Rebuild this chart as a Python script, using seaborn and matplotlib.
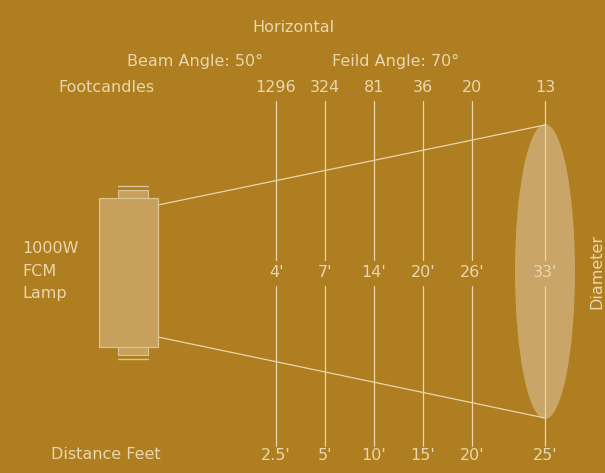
import matplotlib
matplotlib.use("Agg")
import matplotlib.pyplot as plt
from matplotlib.patches import Rectangle, Ellipse
import seaborn as sns
import pandas as pd

# ---- data ----
footcandles = ["1296", "324", "81", "36", "20", "13"]
diameters = ["4'", "7'", "14'", "20'", "26'", "33'"]
distances = ["2.5'", "5'", "10'", "15'", "20'", "25'"]
lamp_label = "1000W\nFCM\nLamp"
beam_angle = "Beam Angle: 50°"
field_angle = "Feild Angle: 70°"

# ---- layout (pixel coords) ----
col_x = [276, 325, 374, 423, 472, 545]

BG = "#AE7E20"
FG = "#EAD7AE"
LAMP = "#C7A15C"
SPOT = "#C9A567"

sns.set_style("white")
plt.rcParams["font.family"] = ["DejaVu Sans"]

fig = plt.figure(figsize=(6.05, 4.73), dpi=100, facecolor=BG)
ax = fig.add_axes([0, 0, 1, 1])
ax.set_facecolor(BG)
ax.set_xlim(0, 605)
ax.set_ylim(473, 0)
ax.axis("off")

df = pd.DataFrame({"x": col_x, "fc": footcandles, "dia": diameters, "dist": distances})

# ellipse (beam spot)
ax.add_patch(Ellipse((545, 271.5), 60, 295, facecolor=SPOT, edgecolor="none", zorder=1))

# beam edges
ax.plot([158, 545], [205, 125], color=FG, lw=0.9, zorder=2)
ax.plot([158, 545], [337, 418], color=FG, lw=0.9, zorder=2)

# vertical distance lines (broken around diameter labels)
for x in df["x"]:
    ax.plot([x, x], [101, 260], color=FG, lw=0.9, zorder=2)
    ax.plot([x, x], [286, 446], color=FG, lw=0.9, zorder=2)

# lamp
ax.add_patch(Rectangle((118, 190), 30, 8, facecolor=LAMP, edgecolor="#DCC394", lw=0.8, zorder=3))
ax.add_patch(Rectangle((118, 346.5), 30, 8, facecolor=LAMP, edgecolor="#DCC394", lw=0.8, zorder=3))
ax.plot([118, 148], [186, 186], color="#DCC394", lw=1, zorder=3)
ax.plot([118, 148], [359, 359], color="#DCC394", lw=1, zorder=3)
ax.add_patch(Rectangle((98.5, 198), 59, 148.5, facecolor=LAMP, edgecolor="#DCC394", lw=0.9, zorder=4))

fs = 11.5
tk = dict(color=FG, fontsize=fs, ha="center", va="center")
ax.text(293, 28, "Horizontal", **tk)
ax.text(195, 61, beam_angle, **tk)
ax.text(396, 61, field_angle, **tk)
ax.text(106, 87, "Footcandles", **tk)
ax.text(106, 454, "Distance Feet", **tk)
ax.text(22, 271, lamp_label, color=FG, fontsize=fs, ha="left", va="center", linespacing=1.6)
ax.text(597, 271, "Diameter", color=FG, fontsize=fs, ha="center", va="center", rotation=90)

for _, r in df.iterrows():
    ax.text(r["x"], 87, r["fc"], **tk)
    ax.text(r["x"], 272, r["dia"], **tk)
    ax.text(r["x"], 455, r["dist"], **tk)

fig.savefig("out.png", dpi=100, facecolor=BG)
